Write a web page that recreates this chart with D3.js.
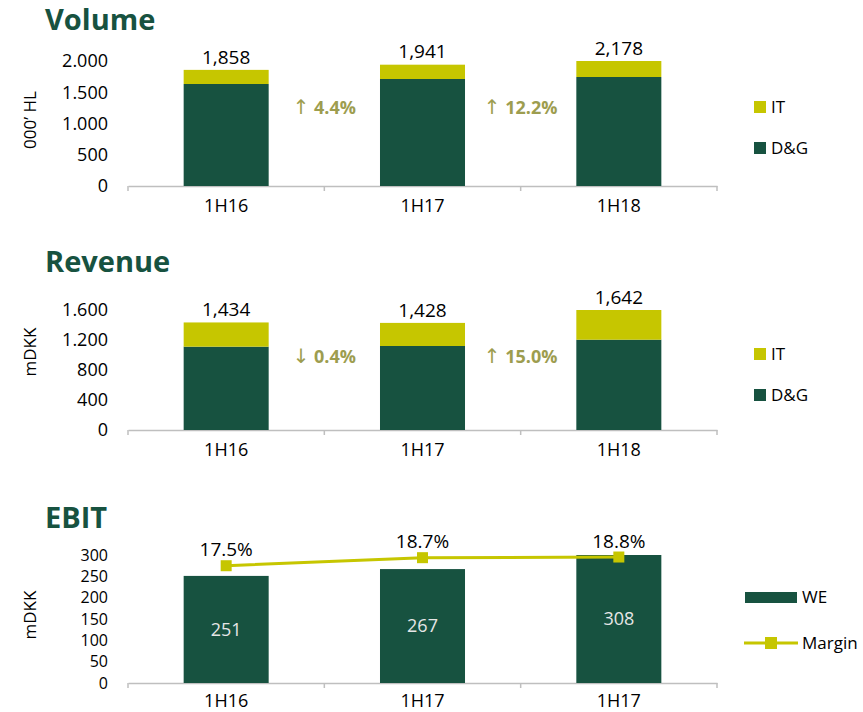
<!DOCTYPE html>
<html lang="en">
<head>
<meta charset="UTF-8">
<title>Volume, Revenue, EBIT</title>
<script src="https://d3js.org/d3.v7.min.js"></script>
<style>
    * { margin: 0; padding: 0; box-sizing: border-box; }
    body { background: #fff; }
    svg { display: block; }
    svg text { font-family: 'Open Sans', 'DejaVu Sans', sans-serif; }
    svg text .arrow { font-family: 'DejaVu Sans', sans-serif; font-weight: normal; }
</style>
</head>
<body>
<svg id="chart" width="863" height="712"></svg>
<script>
// ---- data ----
const categories = ["1H16", "1H17", "1H18"];
const ebitCategories = ["1H16", "1H17", "1H17"];

const volumeDG = [1632, 1712, 1744];
const volumeIT = [226, 229, 434];
const volumeTotal = [1858, 1941, 2178];
const volumeGrowth = [["↑", "4.4%"], ["↑", "12.2%"]];
const volumeTicks = [0, 500, 1000, 1500, 2000];

const revenueDG = [1111, 1120, 1204];
const revenueIT = [323, 308, 438];
const revenueTotal = [1434, 1428, 1642];
const revenueGrowth = [["↓", "0.4%"], ["↑", "15.0%"]];
const revenueTicks = [0, 400, 800, 1200, 1600];

const ebitWE = [251, 267, 308];
const ebitMargin = [17.5, 18.7, 18.8];
const ebitTicks = [0, 50, 100, 150, 200, 250, 300];

const stackKeys = ["D&G", "IT"];

// ---- style ----
const GREEN = "#175240";
const LIME = "#c6c600";
const OLIVE = "#9d9d4f";
const AXIS = "#bfbfbf";

const dotFmt = d3.formatLocale({decimal: ",", thousands: ".", grouping: [3], currency: ["", ""]}).format(",d");
const commaFmt = d3.format(",d");

const svg = d3.select("#chart");

function xScale() {
    return d3.scaleBand().domain(d3.range(categories.length)).range([128, 717]);
}

function drawTitle(text, y) {
    svg.append("text")
        .attr("x", 45).attr("y", y)
        .attr("font-size", 29).attr("font-weight", "bold")
        .attr("fill", GREEN)
        .text(text);
}

function drawYLabel(text, cy) {
    svg.append("text")
        .attr("transform", `translate(30,${cy}) rotate(-90)`)
        .attr("text-anchor", "middle")
        .attr("dy", "0.35em")
        .attr("font-size", 17)
        .text(text);
}

function drawAxes(x, y, ticks, labels, pad, tickFont) {
    const y0 = y.range()[0];
    const xa = svg.append("g")
        .attr("transform", `translate(0,${y0})`)
        .call(d3.axisBottom(x).tickSize(0).tickPadding(pad).tickFormat(i => labels[i]));
    xa.select(".domain").attr("stroke", AXIS).attr("stroke-width", 1.5);
    xa.selectAll("text").attr("font-size", 18).attr("fill", "#000");

    // Excel style ticks between categories
    svg.append("g").selectAll("line")
        .data(d3.range(labels.length + 1))
        .join("line")
        .attr("x1", i => x.range()[0] + i * x.step())
        .attr("x2", i => x.range()[0] + i * x.step())
        .attr("y1", y0).attr("y2", y0 + 5)
        .attr("stroke", AXIS).attr("stroke-width", 1.5);

    const ya = svg.append("g")
        .attr("transform", `translate(${x.range()[0]},0)`)
        .call(d3.axisLeft(y).tickValues(ticks).tickSize(0).tickPadding(20).tickFormat(dotFmt));
    ya.select(".domain").remove();
    ya.selectAll("text").attr("font-size", tickFont).attr("fill", "#000");
}

function drawSquareLegend(items, x, ys) {
    items.forEach((it, k) => {
        svg.append("rect")
            .attr("x", x).attr("y", ys[k] - 6)
            .attr("width", 12).attr("height", 12)
            .attr("fill", it.color);
        svg.append("text")
            .attr("x", x + 17).attr("y", ys[k])
            .attr("dy", "0.35em")
            .attr("font-size", 17)
            .text(it.label);
    });
}

function drawStacked(cfg) {
    const x = xScale();
    const y = d3.scaleLinear().domain(cfg.domain).range(cfg.range).clamp(true);
    const bw = x.bandwidth() * 0.433;

    drawTitle(cfg.title, cfg.titleY);
    drawYLabel(cfg.yLabel, cfg.yLabelY);
    drawAxes(x, y, cfg.ticks, categories, 13, 18);

    const rows = categories.map((c, i) => ({i: i, "D&G": cfg.dg[i], "IT": cfg.it[i]}));
    const series = d3.stack().keys(stackKeys)(rows);
    const color = d3.scaleOrdinal().domain(stackKeys).range([GREEN, LIME]);

    svg.append("g").selectAll("g")
        .data(series)
        .join("g")
        .attr("fill", d => color(d.key))
        .selectAll("rect")
        .data(d => d)
        .join("rect")
        .attr("x", d => x(d.data.i) + (x.bandwidth() - bw) / 2)
        .attr("y", d => y(d[1]))
        .attr("width", bw)
        .attr("height", d => y(d[0]) - y(d[1]));

    // totals
    svg.append("g").selectAll("text")
        .data(cfg.total)
        .join("text")
        .attr("x", (d, i) => x(i) + x.bandwidth() / 2)
        .attr("y", d => y(d) - 13)
        .attr("dy", "0.35em")
        .attr("text-anchor", "middle")
        .attr("font-size", 19)
        .text(d => commaFmt(d));

    // growth labels between bars
    const gl = svg.append("g").selectAll("text")
        .data(cfg.growth)
        .join("text")
        .attr("x", (d, i) => x.range()[0] + (i + 1) * x.step())
        .attr("y", cfg.growthY)
        .attr("dy", "0.35em")
        .attr("text-anchor", "middle")
        .attr("font-size", 18)
        .attr("font-weight", "bold")
        .attr("fill", OLIVE);
    gl.append("tspan").attr("class", "arrow").attr("font-size", 20).text(d => d[0]);
    gl.append("tspan").text(d => " " + d[1]);

    drawSquareLegend([{label: "IT", color: LIME}, {label: "D&G", color: GREEN}], 754, cfg.legendY);
}

drawStacked({
    title: "Volume", titleY: 30, yLabel: "000’ HL", yLabelY: 120,
    domain: [0, 2000], range: [186, 61], ticks: volumeTicks,
    dg: volumeDG, it: volumeIT, total: volumeTotal,
    growth: volumeGrowth, growthY: 108, legendY: [107, 148]
});

drawStacked({
    title: "Revenue", titleY: 272, yLabel: "mDKK", yLabelY: 352,
    domain: [0, 1600], range: [430, 310], ticks: revenueTicks,
    dg: revenueDG, it: revenueIT, total: revenueTotal,
    growth: revenueGrowth, growthY: 357, legendY: [354, 395]
});

// ---- EBIT ----
(function drawEbit() {
    const x = xScale();
    const y = d3.scaleLinear().domain([0, 300]).range([683, 555]).clamp(true);
    const y2 = d3.scaleLinear().domain([0, 19.1]).range([683, 555]);
    const bw = x.bandwidth() * 0.433;
    const cx = i => x(i) + x.bandwidth() / 2;

    drawTitle("EBIT", 528);
    drawYLabel("mDKK", 615);
    drawAxes(x, y, ebitTicks, ebitCategories, 11, 16);

    svg.append("g").selectAll("rect")
        .data(ebitWE)
        .join("rect")
        .attr("x", (d, i) => cx(i) - bw / 2)
        .attr("y", d => y(d))
        .attr("width", bw)
        .attr("height", d => y(0) - y(d))
        .attr("fill", GREEN);

    svg.append("g").selectAll("text")
        .data(ebitWE)
        .join("text")
        .attr("x", (d, i) => cx(i))
        .attr("y", d => (y(0) + y(d)) / 2)
        .attr("dy", "0.35em")
        .attr("text-anchor", "middle")
        .attr("font-size", 18)
        .attr("fill", "#e6e6e6")
        .text(d => d);

    const line = d3.line().x((d, i) => cx(i)).y(d => y2(d));
    svg.append("path")
        .datum(ebitMargin)
        .attr("d", line)
        .attr("fill", "none")
        .attr("stroke", LIME)
        .attr("stroke-width", 3);

    svg.append("g").selectAll("rect")
        .data(ebitMargin)
        .join("rect")
        .attr("x", (d, i) => cx(i) - 5.5)
        .attr("y", d => y2(d) - 5.5)
        .attr("width", 11).attr("height", 11)
        .attr("fill", LIME);

    svg.append("g").selectAll("text")
        .data(ebitMargin)
        .join("text")
        .attr("x", (d, i) => cx(i))
        .attr("y", d => y2(d) - 16)
        .attr("dy", "0.35em")
        .attr("text-anchor", "middle")
        .attr("font-size", 19)
        .text(d => d.toFixed(1) + "%");

    // legend
    svg.append("rect")
        .attr("x", 745).attr("y", 592)
        .attr("width", 52).attr("height", 11)
        .attr("fill", GREEN);
    svg.append("text")
        .attr("x", 802).attr("y", 597).attr("dy", "0.35em")
        .attr("font-size", 17).text("WE");
    svg.append("line")
        .attr("x1", 744).attr("x2", 798)
        .attr("y1", 643).attr("y2", 643)
        .attr("stroke", LIME).attr("stroke-width", 3);
    svg.append("rect")
        .attr("x", 765).attr("y", 637)
        .attr("width", 12).attr("height", 12)
        .attr("fill", LIME);
    svg.append("text")
        .attr("x", 802).attr("y", 643).attr("dy", "0.35em")
        .attr("font-size", 17).text("Margin");
})();
</script>
</body>
</html>
